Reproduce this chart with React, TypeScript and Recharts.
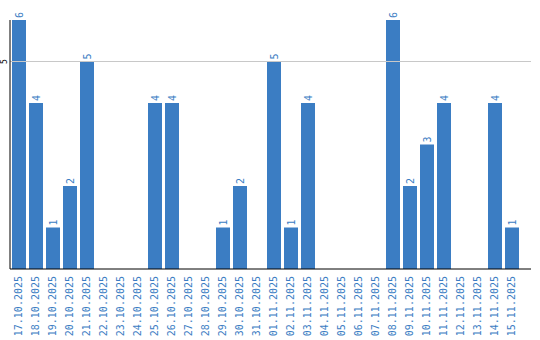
import { Bar, BarChart, LabelList, ReferenceLine, XAxis, YAxis } from "recharts";

const days = [
  "17.10.2025", "18.10.2025", "19.10.2025", "20.10.2025", "21.10.2025",
  "22.10.2025", "23.10.2025", "24.10.2025", "25.10.2025", "26.10.2025",
  "27.10.2025", "28.10.2025", "29.10.2025", "30.10.2025", "31.10.2025",
  "01.11.2025", "02.11.2025", "03.11.2025", "04.11.2025", "05.11.2025",
  "06.11.2025", "07.11.2025", "08.11.2025", "09.11.2025", "10.11.2025",
  "11.11.2025", "12.11.2025", "13.11.2025", "14.11.2025", "15.11.2025",
];

const counts = [
  6, 4, 1, 2, 5, 0, 0, 0, 4, 4,
  0, 0, 1, 2, 0, 5, 1, 4, 0, 0,
  0, 0, 6, 2, 3, 4, 0, 0, 4, 1,
];

const yTicks = [5];

const BLUE = "#3b7dc3";
const FONT = "'DejaVu Sans Mono', monospace";

const data = days.map((day, i) => ({ day, count: counts[i] }));

const DayTick = ({ x, y, payload }: any) => (
  <text
    transform={`translate(${x},${y - 1}) rotate(-90)`}
    textAnchor="end"
    dominantBaseline="central"
    fill={BLUE}
    fontSize={10}
    fontFamily={FONT}
  >
    {payload.value}
  </text>
);

const CountTick = ({ x, y, payload }: any) => (
  <text
    transform={`translate(${x + 2.5},${y}) rotate(-90)`}
    textAnchor="middle"
    dominantBaseline="central"
    fill="#000"
    fontSize={8}
    fontFamily={FONT}
  >
    {payload.value}
  </text>
);

const BarValue = ({ x, y, width, value }: any) => {
  if (!value) return null;
  const cx = x + width / 2;
  return (
    <text
      transform={`translate(${cx},${y - 2}) rotate(-90)`}
      textAnchor="start"
      dominantBaseline="central"
      fill={BLUE}
      fontSize={10}
      fontFamily={FONT}
    >
      {value}
    </text>
  );
};

const App = () => {
  return (
    <div style={{ position: "absolute", left: 0, top: 0, width: 540, height: 340, background: "#fff" }}>
      <BarChart
        width={540}
        height={340}
        data={data}
        margin={{ top: 20, right: 9, left: 0, bottom: 0 }}
        barSize={14}
      >
        <XAxis
          dataKey="day"
          interval={0}
          height={71}
          tickLine={false}
          axisLine={{ stroke: "#000" }}
          tick={<DayTick />}
          padding={{ left: 0, right: 11 }}
        />
        <YAxis
          width={10}
          domain={[0, 6]}
          ticks={yTicks}
          tickLine={false}
          axisLine={{ stroke: "#000" }}
          tick={<CountTick />}
        />
        <ReferenceLine y={5} stroke="#c8c8c8" />
        <Bar dataKey="count" fill={BLUE} isAnimationActive={false}>
          <LabelList dataKey="count" content={<BarValue />} />
        </Bar>
      </BarChart>
    </div>
  );
};

export default App;
